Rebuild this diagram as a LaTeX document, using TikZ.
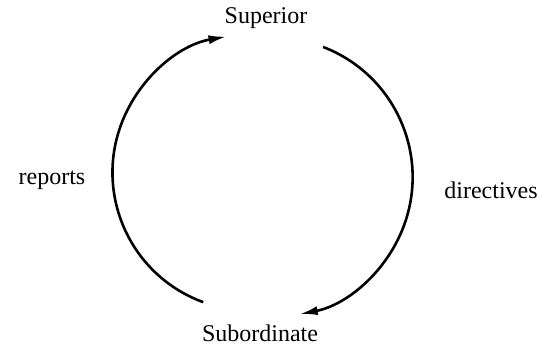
\documentclass[tikz,border=0pt]{standalone}
\usepackage{fontspec}
\setmainfont{Liberation Serif}
\usetikzlibrary{arrows.meta,positioning,calc}

\begin{document}
\begin{tikzpicture}[
  x=0.5pt, y=0.5pt,
  lbl/.style={font=\fontsize{12}{14}\selectfont, inner sep=1pt},
  flow/.style={-{Latex[length=9pt,width=4.5pt]}, line width=1.3pt}
]
\useasboundingbox (0,0) rectangle (539,346);
\node[lbl] (superior) at (266,328) {Superior};
\node[lbl] (subordinate) at (260,13) {Subordinate};
\node[lbl] (reports) at (52,166) {reports};
\node[lbl] (directives) at (491,156) {directives};

% arc ends just off the two nodes
\coordinate (repstart) at ($(250.5,173.5)+(250:69pt)$);
\coordinate (dirstart) at ($(273.1,168.8)+(69:69.75pt)$);

\draw[flow] (repstart) arc[start angle=250, end angle=100, radius=69pt];
\draw[flow] (dirstart) arc[start angle=69, end angle=-79, radius=69.75pt];
\end{tikzpicture}
\end{document}
